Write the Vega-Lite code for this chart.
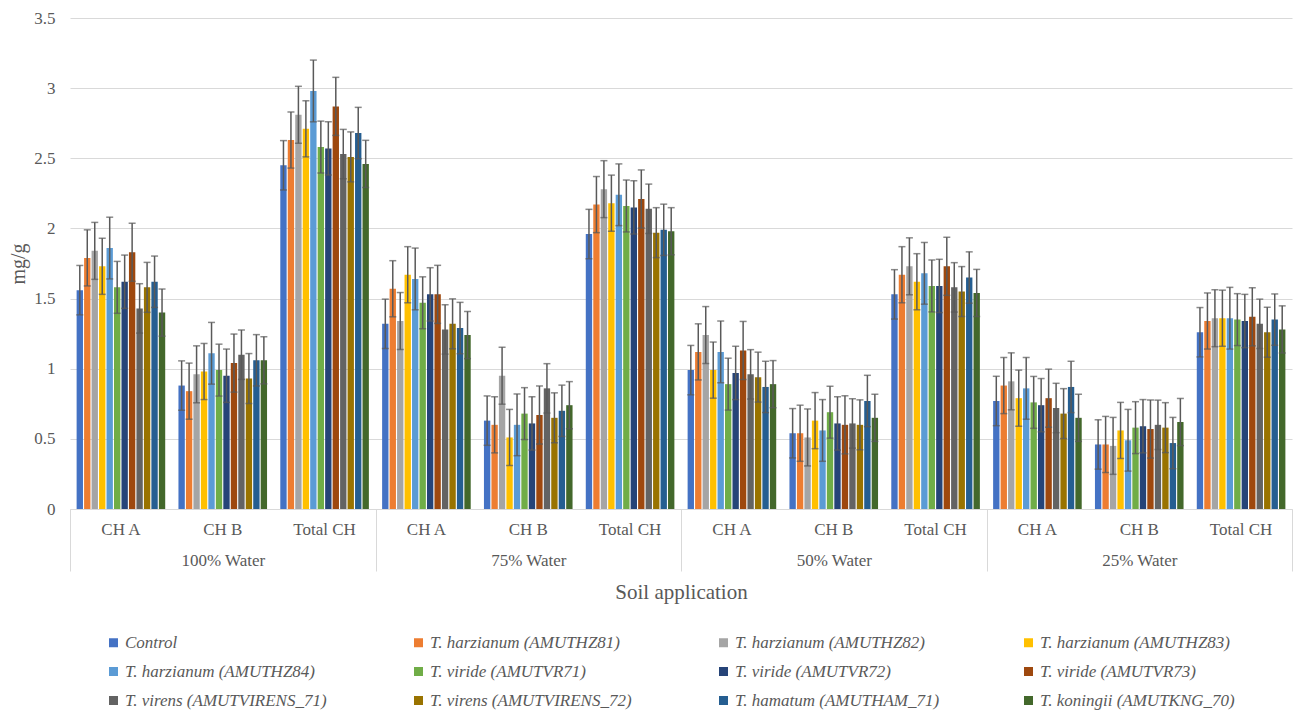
{
  "$schema": "https://vega.github.io/schema/vega-lite/v6.json",
  "width": 1222,
  "height": 491,
  "autosize": "none",
  "padding": {"left": 70, "top": 18, "right": 9, "bottom": 202},
  "background": "white",
  "config": {
    "font": "Liberation Serif",
    "view": {"stroke": null},
    "axis": {
      "labelFont": "Liberation Serif",
      "titleFont": "Liberation Serif",
      "labelColor": "#595959",
      "titleColor": "#595959",
      "labelFontSize": 17,
      "titleFontWeight": "normal"
    },
    "legend": {
      "labelFont": "Liberation Serif",
      "labelFontStyle": "italic",
      "labelFontSize": 17,
      "labelColor": "#595959",
      "labelLimit": 400,
      "symbolType": "square",
      "symbolSize": 81,
      "symbolStrokeWidth": 0,
      "labelOffset": 3,
      "padding": 0
    }
  },
  "datasets": {
    "chl": [
      {"k": "100% Water|CH A", "s": "Control", "v": 1.56, "e": 0.176},
      {"k": "100% Water|CH A", "s": "T. harzianum (AMUTHZ81)", "v": 1.79, "e": 0.2},
      {"k": "100% Water|CH A", "s": "T. harzianum (AMUTHZ82)", "v": 1.84, "e": 0.203},
      {"k": "100% Water|CH A", "s": "T. harzianum (AMUTHZ83)", "v": 1.73, "e": 0.2},
      {"k": "100% Water|CH A", "s": "T. harzianum (AMUTHZ84)", "v": 1.86, "e": 0.22},
      {"k": "100% Water|CH A", "s": "T. viride (AMUTVR71)", "v": 1.58, "e": 0.185},
      {"k": "100% Water|CH A", "s": "T. viride (AMUTVR72)", "v": 1.62, "e": 0.19},
      {"k": "100% Water|CH A", "s": "T. viride (AMUTVR73)", "v": 1.83, "e": 0.207},
      {"k": "100% Water|CH A", "s": "T. virens (AMUTVIRENS_71)", "v": 1.43, "e": 0.176},
      {"k": "100% Water|CH A", "s": "T. virens (AMUTVIRENS_72)", "v": 1.58, "e": 0.178},
      {"k": "100% Water|CH A", "s": "T. hamatum (AMUTHAM_71)", "v": 1.62, "e": 0.183},
      {"k": "100% Water|CH A", "s": "T. koningii (AMUTKNG_70)", "v": 1.40, "e": 0.168},
      {"k": "100% Water|CH B", "s": "Control", "v": 0.88, "e": 0.176},
      {"k": "100% Water|CH B", "s": "T. harzianum (AMUTHZ81)", "v": 0.84, "e": 0.2},
      {"k": "100% Water|CH B", "s": "T. harzianum (AMUTHZ82)", "v": 0.96, "e": 0.203},
      {"k": "100% Water|CH B", "s": "T. harzianum (AMUTHZ83)", "v": 0.98, "e": 0.2},
      {"k": "100% Water|CH B", "s": "T. harzianum (AMUTHZ84)", "v": 1.11, "e": 0.22},
      {"k": "100% Water|CH B", "s": "T. viride (AMUTVR71)", "v": 0.99, "e": 0.185},
      {"k": "100% Water|CH B", "s": "T. viride (AMUTVR72)", "v": 0.95, "e": 0.19},
      {"k": "100% Water|CH B", "s": "T. viride (AMUTVR73)", "v": 1.04, "e": 0.207},
      {"k": "100% Water|CH B", "s": "T. virens (AMUTVIRENS_71)", "v": 1.10, "e": 0.176},
      {"k": "100% Water|CH B", "s": "T. virens (AMUTVIRENS_72)", "v": 0.93, "e": 0.178},
      {"k": "100% Water|CH B", "s": "T. hamatum (AMUTHAM_71)", "v": 1.06, "e": 0.183},
      {"k": "100% Water|CH B", "s": "T. koningii (AMUTKNG_70)", "v": 1.06, "e": 0.168},
      {"k": "100% Water|Total CH", "s": "Control", "v": 2.45, "e": 0.176},
      {"k": "100% Water|Total CH", "s": "T. harzianum (AMUTHZ81)", "v": 2.63, "e": 0.2},
      {"k": "100% Water|Total CH", "s": "T. harzianum (AMUTHZ82)", "v": 2.81, "e": 0.203},
      {"k": "100% Water|Total CH", "s": "T. harzianum (AMUTHZ83)", "v": 2.71, "e": 0.2},
      {"k": "100% Water|Total CH", "s": "T. harzianum (AMUTHZ84)", "v": 2.98, "e": 0.22},
      {"k": "100% Water|Total CH", "s": "T. viride (AMUTVR71)", "v": 2.58, "e": 0.185},
      {"k": "100% Water|Total CH", "s": "T. viride (AMUTVR72)", "v": 2.57, "e": 0.19},
      {"k": "100% Water|Total CH", "s": "T. viride (AMUTVR73)", "v": 2.87, "e": 0.207},
      {"k": "100% Water|Total CH", "s": "T. virens (AMUTVIRENS_71)", "v": 2.53, "e": 0.176},
      {"k": "100% Water|Total CH", "s": "T. virens (AMUTVIRENS_72)", "v": 2.51, "e": 0.178},
      {"k": "100% Water|Total CH", "s": "T. hamatum (AMUTHAM_71)", "v": 2.68, "e": 0.183},
      {"k": "100% Water|Total CH", "s": "T. koningii (AMUTKNG_70)", "v": 2.46, "e": 0.168},
      {"k": "75% Water|CH A", "s": "Control", "v": 1.32, "e": 0.176},
      {"k": "75% Water|CH A", "s": "T. harzianum (AMUTHZ81)", "v": 1.57, "e": 0.2},
      {"k": "75% Water|CH A", "s": "T. harzianum (AMUTHZ82)", "v": 1.34, "e": 0.203},
      {"k": "75% Water|CH A", "s": "T. harzianum (AMUTHZ83)", "v": 1.67, "e": 0.2},
      {"k": "75% Water|CH A", "s": "T. harzianum (AMUTHZ84)", "v": 1.64, "e": 0.22},
      {"k": "75% Water|CH A", "s": "T. viride (AMUTVR71)", "v": 1.47, "e": 0.185},
      {"k": "75% Water|CH A", "s": "T. viride (AMUTVR72)", "v": 1.53, "e": 0.19},
      {"k": "75% Water|CH A", "s": "T. viride (AMUTVR73)", "v": 1.53, "e": 0.207},
      {"k": "75% Water|CH A", "s": "T. virens (AMUTVIRENS_71)", "v": 1.28, "e": 0.176},
      {"k": "75% Water|CH A", "s": "T. virens (AMUTVIRENS_72)", "v": 1.32, "e": 0.178},
      {"k": "75% Water|CH A", "s": "T. hamatum (AMUTHAM_71)", "v": 1.29, "e": 0.183},
      {"k": "75% Water|CH A", "s": "T. koningii (AMUTKNG_70)", "v": 1.24, "e": 0.168},
      {"k": "75% Water|CH B", "s": "Control", "v": 0.63, "e": 0.176},
      {"k": "75% Water|CH B", "s": "T. harzianum (AMUTHZ81)", "v": 0.60, "e": 0.2},
      {"k": "75% Water|CH B", "s": "T. harzianum (AMUTHZ82)", "v": 0.95, "e": 0.203},
      {"k": "75% Water|CH B", "s": "T. harzianum (AMUTHZ83)", "v": 0.51, "e": 0.2},
      {"k": "75% Water|CH B", "s": "T. harzianum (AMUTHZ84)", "v": 0.60, "e": 0.22},
      {"k": "75% Water|CH B", "s": "T. viride (AMUTVR71)", "v": 0.68, "e": 0.185},
      {"k": "75% Water|CH B", "s": "T. viride (AMUTVR72)", "v": 0.61, "e": 0.19},
      {"k": "75% Water|CH B", "s": "T. viride (AMUTVR73)", "v": 0.67, "e": 0.207},
      {"k": "75% Water|CH B", "s": "T. virens (AMUTVIRENS_71)", "v": 0.86, "e": 0.176},
      {"k": "75% Water|CH B", "s": "T. virens (AMUTVIRENS_72)", "v": 0.65, "e": 0.178},
      {"k": "75% Water|CH B", "s": "T. hamatum (AMUTHAM_71)", "v": 0.70, "e": 0.183},
      {"k": "75% Water|CH B", "s": "T. koningii (AMUTKNG_70)", "v": 0.74, "e": 0.168},
      {"k": "75% Water|Total CH", "s": "Control", "v": 1.96, "e": 0.176},
      {"k": "75% Water|Total CH", "s": "T. harzianum (AMUTHZ81)", "v": 2.17, "e": 0.2},
      {"k": "75% Water|Total CH", "s": "T. harzianum (AMUTHZ82)", "v": 2.28, "e": 0.203},
      {"k": "75% Water|Total CH", "s": "T. harzianum (AMUTHZ83)", "v": 2.18, "e": 0.2},
      {"k": "75% Water|Total CH", "s": "T. harzianum (AMUTHZ84)", "v": 2.24, "e": 0.22},
      {"k": "75% Water|Total CH", "s": "T. viride (AMUTVR71)", "v": 2.16, "e": 0.185},
      {"k": "75% Water|Total CH", "s": "T. viride (AMUTVR72)", "v": 2.15, "e": 0.19},
      {"k": "75% Water|Total CH", "s": "T. viride (AMUTVR73)", "v": 2.21, "e": 0.207},
      {"k": "75% Water|Total CH", "s": "T. virens (AMUTVIRENS_71)", "v": 2.14, "e": 0.176},
      {"k": "75% Water|Total CH", "s": "T. virens (AMUTVIRENS_72)", "v": 1.97, "e": 0.178},
      {"k": "75% Water|Total CH", "s": "T. hamatum (AMUTHAM_71)", "v": 1.99, "e": 0.183},
      {"k": "75% Water|Total CH", "s": "T. koningii (AMUTKNG_70)", "v": 1.98, "e": 0.168},
      {"k": "50% Water|CH A", "s": "Control", "v": 0.99, "e": 0.176},
      {"k": "50% Water|CH A", "s": "T. harzianum (AMUTHZ81)", "v": 1.12, "e": 0.2},
      {"k": "50% Water|CH A", "s": "T. harzianum (AMUTHZ82)", "v": 1.24, "e": 0.203},
      {"k": "50% Water|CH A", "s": "T. harzianum (AMUTHZ83)", "v": 0.99, "e": 0.2},
      {"k": "50% Water|CH A", "s": "T. harzianum (AMUTHZ84)", "v": 1.12, "e": 0.22},
      {"k": "50% Water|CH A", "s": "T. viride (AMUTVR71)", "v": 0.89, "e": 0.185},
      {"k": "50% Water|CH A", "s": "T. viride (AMUTVR72)", "v": 0.97, "e": 0.19},
      {"k": "50% Water|CH A", "s": "T. viride (AMUTVR73)", "v": 1.13, "e": 0.207},
      {"k": "50% Water|CH A", "s": "T. virens (AMUTVIRENS_71)", "v": 0.96, "e": 0.176},
      {"k": "50% Water|CH A", "s": "T. virens (AMUTVIRENS_72)", "v": 0.94, "e": 0.178},
      {"k": "50% Water|CH A", "s": "T. hamatum (AMUTHAM_71)", "v": 0.87, "e": 0.183},
      {"k": "50% Water|CH A", "s": "T. koningii (AMUTKNG_70)", "v": 0.89, "e": 0.168},
      {"k": "50% Water|CH B", "s": "Control", "v": 0.54, "e": 0.176},
      {"k": "50% Water|CH B", "s": "T. harzianum (AMUTHZ81)", "v": 0.54, "e": 0.2},
      {"k": "50% Water|CH B", "s": "T. harzianum (AMUTHZ82)", "v": 0.51, "e": 0.203},
      {"k": "50% Water|CH B", "s": "T. harzianum (AMUTHZ83)", "v": 0.63, "e": 0.2},
      {"k": "50% Water|CH B", "s": "T. harzianum (AMUTHZ84)", "v": 0.56, "e": 0.22},
      {"k": "50% Water|CH B", "s": "T. viride (AMUTVR71)", "v": 0.69, "e": 0.185},
      {"k": "50% Water|CH B", "s": "T. viride (AMUTVR72)", "v": 0.61, "e": 0.19},
      {"k": "50% Water|CH B", "s": "T. viride (AMUTVR73)", "v": 0.60, "e": 0.207},
      {"k": "50% Water|CH B", "s": "T. virens (AMUTVIRENS_71)", "v": 0.61, "e": 0.176},
      {"k": "50% Water|CH B", "s": "T. virens (AMUTVIRENS_72)", "v": 0.60, "e": 0.178},
      {"k": "50% Water|CH B", "s": "T. hamatum (AMUTHAM_71)", "v": 0.77, "e": 0.183},
      {"k": "50% Water|CH B", "s": "T. koningii (AMUTKNG_70)", "v": 0.65, "e": 0.168},
      {"k": "50% Water|Total CH", "s": "Control", "v": 1.53, "e": 0.176},
      {"k": "50% Water|Total CH", "s": "T. harzianum (AMUTHZ81)", "v": 1.67, "e": 0.2},
      {"k": "50% Water|Total CH", "s": "T. harzianum (AMUTHZ82)", "v": 1.73, "e": 0.203},
      {"k": "50% Water|Total CH", "s": "T. harzianum (AMUTHZ83)", "v": 1.62, "e": 0.2},
      {"k": "50% Water|Total CH", "s": "T. harzianum (AMUTHZ84)", "v": 1.68, "e": 0.22},
      {"k": "50% Water|Total CH", "s": "T. viride (AMUTVR71)", "v": 1.59, "e": 0.185},
      {"k": "50% Water|Total CH", "s": "T. viride (AMUTVR72)", "v": 1.59, "e": 0.19},
      {"k": "50% Water|Total CH", "s": "T. viride (AMUTVR73)", "v": 1.73, "e": 0.207},
      {"k": "50% Water|Total CH", "s": "T. virens (AMUTVIRENS_71)", "v": 1.58, "e": 0.176},
      {"k": "50% Water|Total CH", "s": "T. virens (AMUTVIRENS_72)", "v": 1.55, "e": 0.178},
      {"k": "50% Water|Total CH", "s": "T. hamatum (AMUTHAM_71)", "v": 1.65, "e": 0.183},
      {"k": "50% Water|Total CH", "s": "T. koningii (AMUTKNG_70)", "v": 1.54, "e": 0.168},
      {"k": "25% Water|CH A", "s": "Control", "v": 0.77, "e": 0.176},
      {"k": "25% Water|CH A", "s": "T. harzianum (AMUTHZ81)", "v": 0.88, "e": 0.2},
      {"k": "25% Water|CH A", "s": "T. harzianum (AMUTHZ82)", "v": 0.91, "e": 0.203},
      {"k": "25% Water|CH A", "s": "T. harzianum (AMUTHZ83)", "v": 0.79, "e": 0.2},
      {"k": "25% Water|CH A", "s": "T. harzianum (AMUTHZ84)", "v": 0.86, "e": 0.22},
      {"k": "25% Water|CH A", "s": "T. viride (AMUTVR71)", "v": 0.76, "e": 0.185},
      {"k": "25% Water|CH A", "s": "T. viride (AMUTVR72)", "v": 0.74, "e": 0.19},
      {"k": "25% Water|CH A", "s": "T. viride (AMUTVR73)", "v": 0.79, "e": 0.207},
      {"k": "25% Water|CH A", "s": "T. virens (AMUTVIRENS_71)", "v": 0.72, "e": 0.176},
      {"k": "25% Water|CH A", "s": "T. virens (AMUTVIRENS_72)", "v": 0.68, "e": 0.178},
      {"k": "25% Water|CH A", "s": "T. hamatum (AMUTHAM_71)", "v": 0.87, "e": 0.183},
      {"k": "25% Water|CH A", "s": "T. koningii (AMUTKNG_70)", "v": 0.65, "e": 0.168},
      {"k": "25% Water|CH B", "s": "Control", "v": 0.46, "e": 0.176},
      {"k": "25% Water|CH B", "s": "T. harzianum (AMUTHZ81)", "v": 0.46, "e": 0.2},
      {"k": "25% Water|CH B", "s": "T. harzianum (AMUTHZ82)", "v": 0.45, "e": 0.203},
      {"k": "25% Water|CH B", "s": "T. harzianum (AMUTHZ83)", "v": 0.56, "e": 0.2},
      {"k": "25% Water|CH B", "s": "T. harzianum (AMUTHZ84)", "v": 0.49, "e": 0.22},
      {"k": "25% Water|CH B", "s": "T. viride (AMUTVR71)", "v": 0.58, "e": 0.185},
      {"k": "25% Water|CH B", "s": "T. viride (AMUTVR72)", "v": 0.59, "e": 0.19},
      {"k": "25% Water|CH B", "s": "T. viride (AMUTVR73)", "v": 0.57, "e": 0.207},
      {"k": "25% Water|CH B", "s": "T. virens (AMUTVIRENS_71)", "v": 0.60, "e": 0.176},
      {"k": "25% Water|CH B", "s": "T. virens (AMUTVIRENS_72)", "v": 0.58, "e": 0.178},
      {"k": "25% Water|CH B", "s": "T. hamatum (AMUTHAM_71)", "v": 0.47, "e": 0.183},
      {"k": "25% Water|CH B", "s": "T. koningii (AMUTKNG_70)", "v": 0.62, "e": 0.168},
      {"k": "25% Water|Total CH", "s": "Control", "v": 1.26, "e": 0.176},
      {"k": "25% Water|Total CH", "s": "T. harzianum (AMUTHZ81)", "v": 1.34, "e": 0.2},
      {"k": "25% Water|Total CH", "s": "T. harzianum (AMUTHZ82)", "v": 1.36, "e": 0.203},
      {"k": "25% Water|Total CH", "s": "T. harzianum (AMUTHZ83)", "v": 1.36, "e": 0.2},
      {"k": "25% Water|Total CH", "s": "T. harzianum (AMUTHZ84)", "v": 1.36, "e": 0.22},
      {"k": "25% Water|Total CH", "s": "T. viride (AMUTVR71)", "v": 1.35, "e": 0.185},
      {"k": "25% Water|Total CH", "s": "T. viride (AMUTVR72)", "v": 1.34, "e": 0.19},
      {"k": "25% Water|Total CH", "s": "T. viride (AMUTVR73)", "v": 1.37, "e": 0.207},
      {"k": "25% Water|Total CH", "s": "T. virens (AMUTVIRENS_71)", "v": 1.32, "e": 0.176},
      {"k": "25% Water|Total CH", "s": "T. virens (AMUTVIRENS_72)", "v": 1.26, "e": 0.178},
      {"k": "25% Water|Total CH", "s": "T. hamatum (AMUTHAM_71)", "v": 1.35, "e": 0.183},
      {"k": "25% Water|Total CH", "s": "T. koningii (AMUTKNG_70)", "v": 1.28, "e": 0.168}
    ],
    "groups": [
      {"g": "100% Water"},
      {"g": "75% Water"},
      {"g": "50% Water"},
      {"g": "25% Water"}
    ]
  },
  "layer": [
    {
      "data": {"name": "chl"},
      "layer": [
        {
          "mark": {"type": "bar"},
          "encoding": {
            "x": {
              "field": "k",
              "type": "nominal",
              "sort": null,
              "scale": {"type": "band", "paddingInner": 0.13, "paddingOuter": 0.065},
              "axis": {
                "orient": "bottom",
                "title": null,
                "labelExpr": "split(datum.label, '|')[1]",
                "labelAngle": 0,
                "ticks": false,
                "domain": true,
                "domainColor": "#d9d9d9",
                "domainWidth": 1,
                "labelPadding": 12,
                "grid": false
              }
            },
            "xOffset": {
              "field": "s",
              "type": "nominal",
              "sort": null,
              "scale": {"paddingInner": 0.15, "paddingOuter": 0}
            },
            "y": {
              "field": "v",
              "type": "quantitative",
              "scale": {"domain": [0, 3.5], "nice": false},
              "axis": {
                "title": "mg/g",
                "titleFontSize": 20,
                "titlePadding": 5,
                "values": [0, 0.5, 1, 1.5, 2, 2.5, 3, 3.5],
                "format": "~g",
                "domain": false,
                "ticks": false,
                "labelPadding": 15,
                "gridColor": "#d9d9d9",
                "gridWidth": 1
              }
            },
            "color": {
              "field": "s",
              "type": "nominal",
              "sort": null,
              "scale": {
                "domain": [
                  "Control",
                  "T. harzianum (AMUTHZ81)",
                  "T. harzianum (AMUTHZ82)",
                  "T. harzianum (AMUTHZ83)",
                  "T. harzianum (AMUTHZ84)",
                  "T. viride (AMUTVR71)",
                  "T. viride (AMUTVR72)",
                  "T. viride (AMUTVR73)",
                  "T. virens (AMUTVIRENS_71)",
                  "T. virens (AMUTVIRENS_72)",
                  "T. hamatum (AMUTHAM_71)",
                  "T. koningii (AMUTKNG_70)"
                ],
                "range": [
                  "#4472C4", "#ED7D31", "#A5A5A5", "#FFC000",
                  "#5B9BD5", "#70AD47", "#264478", "#9E480E",
                  "#636363", "#997300", "#255E91", "#43682B"
                ]
              },
              "legend": {
                "title": null,
                "orient": "none",
                "legendX": 35,
                "legendY": 616,
                "direction": "horizontal",
                "columns": 4,
                "gridAlign": "all",
                "columnPadding": 80,
                "rowPadding": 11,
                "labelFont": "Liberation Serif",
                "labelFontStyle": "italic"
              }
            }
          }
        },
        {
          "mark": {"type": "errorbar", "ticks": true, "size": 7, "thickness": 1.5, "color": "#595959"},
          "encoding": {
            "x": {"field": "k", "type": "nominal", "sort": null, "axis": {"title": null}},
            "xOffset": {"field": "s", "type": "nominal", "sort": null},
            "y": {"field": "v", "type": "quantitative", "axis": {"title": "mg/g"}},
            "yError": {"field": "e"}
          }
        }
      ]
    },
    {
      "data": {"name": "groups"},
      "mark": {"type": "rule", "strokeOpacity": 0},
      "encoding": {
        "x": {
          "field": "g",
          "type": "nominal",
          "sort": null,
          "scale": {"type": "band", "paddingInner": 0, "paddingOuter": 0},
          "axis": {
            "orient": "bottom",
            "title": "Soil application",
            "titleFontSize": 21,
            "titlePadding": 10,
            "labelAngle": 0,
            "domain": false,
            "grid": false,
            "ticks": true,
            "tickBand": "extent",
            "tickSize": 62,
            "tickColor": "#d9d9d9",
            "tickWidth": 1,
            "labelPadding": -19
          }
        }
      }
    }
  ],
  "resolve": {"scale": {"x": "independent"}, "axis": {"x": "independent"}}
}
